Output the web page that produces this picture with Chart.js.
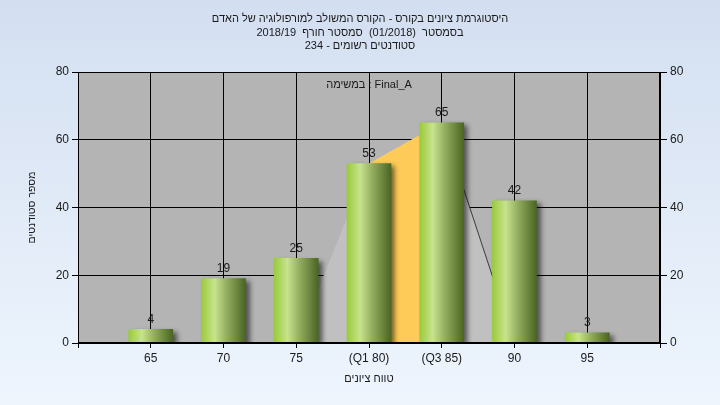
<!DOCTYPE html>
<html>
<head>
<meta charset="utf-8">
<script src="https://cdn.jsdelivr.net/npm/chart.js@4.4.1/dist/chart.umd.min.js"></script>
<style>
  html, body { margin: 0; padding: 0; }
  #wrap { width: 720px; height: 405px; position: relative; }
</style>
</head>
<body>
<div id="wrap"><canvas id="gradesChart" dir="rtl"></canvas></div>
<script>
// data
const categories = ["", "65", "70", "75", "(Q1 80)", "(Q3 85)", "90", "95", ""];
const counts = [null, 4, 19, 25, 53, 65, 42, 3, null];
const curveValues = [null, null, null, 0, 53, 65, 0, null, null];
const quartileValues = [null, null, null, null, 53, 65, null, null, null];
const yTicks = [0, 20, 40, 60, 80];

const titleLines = [
  "היסטוגרמת ציונים בקורס - הקורס המשולב למורפולוגיה של האדם",
  "בסמסטר  (01/2018)  סמסטר חורף  2018/19",
  "סטודנטים רשומים - 234",
];
const seriesLabel = "במשימה : Final_A";

const FONT = "'Liberation Sans', Arial, 'DejaVu Sans', sans-serif";
const TEXT = "#1a1a1a";

// page background, plot background, bar gradients, shadows, value labels
const decor = {
  id: "decor",
  beforeDraw(chart) {
    const { ctx, chartArea: a } = chart;
    ctx.save();
    const g = ctx.createLinearGradient(0, 0, 0, chart.height);
    g.addColorStop(0, "#d3dff1");
    g.addColorStop(1, "#eef5fd");
    ctx.fillStyle = g;
    ctx.fillRect(0, 0, chart.width, chart.height);
    ctx.fillStyle = "#b4b4b4";
    ctx.fillRect(a.left, a.top, a.right - a.left, a.bottom - a.top);
    ctx.restore();
  },
  beforeDatasetDraw(chart, args) {
    if (args.index !== 0) return;
    const ctx = chart.ctx;
    args.meta.data.forEach((bar) => {
      const g = ctx.createLinearGradient(bar.x - bar.width / 2, 0, bar.x + bar.width / 2, 0);
      g.addColorStop(0, "#9acb3a");
      g.addColorStop(0.3, "#c8e38e");
      g.addColorStop(0.55, "#97b262");
      g.addColorStop(1, "#4b6523");
      bar.options = Object.assign({}, bar.options, { backgroundColor: g });
    });
    ctx.save();
    ctx.shadowColor = "rgba(0,0,0,0.55)";
    ctx.shadowBlur = 5;
    ctx.shadowOffsetX = 4;
    ctx.shadowOffsetY = 3;
  },
  afterDatasetDraw(chart, args) {
    if (args.index !== 0) return;
    chart.ctx.restore();
  },
  afterDatasetsDraw(chart) {
    const { ctx, chartArea: a } = chart;
    const meta = chart.getDatasetMeta(0);
    ctx.save();
    ctx.direction = "ltr";
    ctx.font = "12px " + FONT;
    ctx.fillStyle = TEXT;
    ctx.textAlign = "center";
    ctx.textBaseline = "bottom";
    meta.data.forEach((bar, i) => {
      if (counts[i] == null) return;
      ctx.fillText(String(counts[i]), bar.x, bar.y - 4);
    });
    ctx.font = "11px " + FONT;
    ctx.textBaseline = "middle";
    ctx.fillText(seriesLabel, (a.left + a.right) / 2, a.top + 13);
    ctx.strokeStyle = "#000";
    ctx.lineWidth = 1;
    ctx.strokeRect(Math.round(a.left) + 0.5, Math.round(a.top) + 0.5,
      Math.round(a.right - a.left) - 1, Math.round(a.bottom - a.top) - 1);
    ctx.restore();
  },
};

new Chart(document.getElementById("gradesChart"), {
  type: "bar",
  data: {
    labels: categories,
    datasets: [
      {
        label: "Final_A",
        data: counts,
        barThickness: 44,
        borderWidth: 0,
        order: 0,
      },
      {
        type: "line",
        data: quartileValues,
        backgroundColor: "#fecb58",
        borderWidth: 0,
        pointRadius: 0,
        fill: "origin",
        order: 1,
      },
      {
        type: "line",
        data: curveValues,
        backgroundColor: "#c0c0c0",
        borderWidth: 1,
        pointRadius: 0,
        fill: "origin",
        segment: {
          borderColor: (c) => (c.p0DataIndex === 5 ? "#3a3a3a" : "rgba(0,0,0,0)"),
        },
        order: 2,
      },
    ],
  },
  options: {
    responsive: true,
    maintainAspectRatio: false,
    animation: false,
    layout: { padding: 0 },
    plugins: {
      legend: { display: false },
      tooltip: { enabled: false },
      title: {
        display: true,
        text: titleLines,
        color: TEXT,
        font: { family: FONT, size: 11, weight: "normal", lineHeight: 1.25 },
        padding: { top: 12, bottom: 18.75 },
      },
    },
    scales: {
      x: {
        offset: false,
        grid: { color: "#000", lineWidth: 1, tickLength: 5, offset: false },
        border: { color: "#000" },
        ticks: { color: TEXT, font: { family: FONT, size: 12 }, padding: 3, maxRotation: 0, autoSkip: false },
        title: {
          display: true,
          text: "טווח ציונים",
          color: TEXT,
          font: { family: FONT, size: 11 },
          padding: { top: 0, bottom: 19 },
        },
        afterFit: (s) => { s.height = 62; },
      },
      y: {
        position: "left",
        min: yTicks[0],
        max: yTicks[yTicks.length - 1],
        afterBuildTicks: (s) => { s.ticks = yTicks.map((v) => ({ value: v })); },
        grid: { color: "#000", lineWidth: 1, tickLength: 6 },
        border: { color: "#000" },
        ticks: { color: TEXT, font: { family: FONT, size: 12 }, padding: 3 },
        title: {
          display: true,
          text: "מספר סטודנטים",
          color: TEXT,
          font: { family: FONT, size: 10.5 },
          padding: { top: 26, bottom: 0 },
        },
        afterFit: (s) => { s.width = 78; },
      },
      y1: {
        position: "right",
        min: yTicks[0],
        max: yTicks[yTicks.length - 1],
        afterBuildTicks: (s) => { s.ticks = yTicks.map((v) => ({ value: v })); },
        grid: { drawOnChartArea: false, color: "#000", tickLength: 7 },
        border: { color: "#000" },
        ticks: { color: TEXT, font: { family: FONT, size: 12 }, padding: 3 },
        afterFit: (s) => { s.width = 60; },
      },
    },
  },
  plugins: [decor],
});
</script>
</body>
</html>
